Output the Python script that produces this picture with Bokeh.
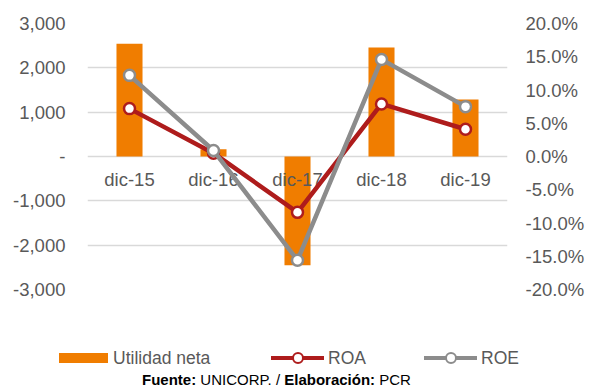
from bokeh.plotting import figure
from bokeh.models import (Range1d, FactorRange, LinearAxis, FixedTicker, CustomJSTickFormatter,
                          ColumnDataSource, Div)
from bokeh.layouts import column
from bokeh.core.properties import value
from bokeh.embed import file_html
from bokeh.resources import INLINE

categories = ["dic-15", "dic-16", "dic-17", "dic-18", "dic-19"]
utilidad_neta = [2545, 165, -2455, 2460, 1285]
roa = [0.072, 0.005, -0.084, 0.079, 0.041]
roe = [0.122, 0.009, -0.156, 0.146, 0.075]
left_ticks = [-3000, -2000, -1000, 0, 1000, 2000, 3000]
right_ticks = [-0.20, -0.15, -0.10, -0.05, 0.0, 0.05, 0.10, 0.15, 0.20]
series_names = ["Utilidad neta", "ROA", "ROE"]
note_bold = ["Fuente:", "Elaboración:"]
note_text = ["UNICORP. /", "PCR"]

ORANGE = "#F07D00"
RED = "#AE1C1C"
GREY = "#8C8C8C"
TXT = "#595959"
FONT = "Liberation Sans"
TICK_FS = "18.5px"

src = ColumnDataSource(dict(cat=categories, util=utilidad_neta, roa=roa, roe=roe))

p = figure(frame_width=420, frame_height=266, x_range=FactorRange(*categories),
           y_range=Range1d(-3000, 3000), output_backend="svg", toolbar_location=None,
           x_axis_location=None, min_border_left=87, min_border_right=83,
           min_border_top=23, min_border_bottom=41)
p.outline_line_color = None
p.background_fill_color = "white"
p.border_fill_color = "white"
p.extra_y_ranges = {"pct": Range1d(-0.2, 0.2)}

ya = p.yaxis[0]
ya.ticker = FixedTicker(ticks=left_ticks)
ya.formatter = CustomJSTickFormatter(code="""
if (tick == 0) return '-';
return tick.toLocaleString('en-US');
""")
ya.axis_line_color = None
ya.major_tick_line_color = None
ya.minor_tick_line_color = None
ya.major_label_standoff = 16
ya.major_label_text_font = FONT
ya.major_label_text_font_size = TICK_FS
ya.major_label_text_color = TXT

p.ygrid.ticker = FixedTicker(ticks=left_ticks)
p.ygrid.grid_line_color = "#D9D9D9"
p.ygrid.grid_line_width = 1.5
p.xgrid.grid_line_color = None

ra = LinearAxis(y_range_name="pct", ticker=FixedTicker(ticks=right_ticks),
                formatter=CustomJSTickFormatter(code="return (tick*100).toFixed(1) + '%';"))
ra.axis_line_color = None
ra.major_tick_line_color = None
ra.minor_tick_line_color = None
ra.major_label_standoff = 12
ra.major_label_text_font = FONT
ra.major_label_text_font_size = TICK_FS
ra.major_label_text_color = TXT
p.add_layout(ra, "right")

p.vbar(x="cat", top="util", bottom=0, width=0.31, source=src, fill_color=ORANGE, line_color=None)

p.text(x="cat", y=0, text="cat", source=src, y_offset=23, text_align="center",
       text_baseline="middle", text_font=value(FONT), text_font_size=TICK_FS, text_color=TXT)

p.line(x="cat", y="roa", source=src, y_range_name="pct", line_color=RED, line_width=4.5)
p.scatter(x="cat", y="roa", source=src, y_range_name="pct", size=11, marker="circle",
          fill_color="white", line_color=RED, line_width=2.5)
p.line(x="cat", y="roe", source=src, y_range_name="pct", line_color=GREY, line_width=4.5)
p.scatter(x="cat", y="roe", source=src, y_range_name="pct", size=11, marker="circle",
          fill_color="white", line_color=GREY, line_width=2.5)

# ---- legend and source note (HTML) ----
def abs_span(left, top, style, content=""):
    return (f'<span style="position:absolute;left:{left}px;top:{top}px;{style}">'
            f'{content}</span>')

lab_style = f"font-size:17.5px;line-height:20px;color:{TXT};white-space:nowrap;"

def line_swatch(x0, color):
    return (abs_span(x0, 26, f"width:53px;height:4px;background:{color};")
            + abs_span(x0 + 21, 22, f"width:12px;height:12px;box-sizing:border-box;"
                       f"border:2.5px solid {color};border-radius:50%;background:white;"))

html = (f'<div style="position:relative;width:590px;height:58px;font-family:\'{FONT}\';">'
        + abs_span(59, 23, f"width:49px;height:10px;background:{ORANGE};")
        + abs_span(113, 18, lab_style, series_names[0])
        + line_swatch(271, RED)
        + abs_span(328, 18, lab_style, series_names[1])
        + line_swatch(424, GREY)
        + abs_span(481, 18, lab_style, series_names[2])
        + abs_span(142, 42, "font-size:15px;line-height:15px;color:black;white-space:nowrap;",
                   f"<b>{note_bold[0]}</b> {note_text[0]} <b>{note_bold[1]}</b> {note_text[1]}")
        + '</div>')

legend_div = Div(text=html, width=590, height=58, margin=(0, 0, 0, 0))

layout = column(p, legend_div, spacing=0)
open("out.html", "w").write(file_html(layout, INLINE))
